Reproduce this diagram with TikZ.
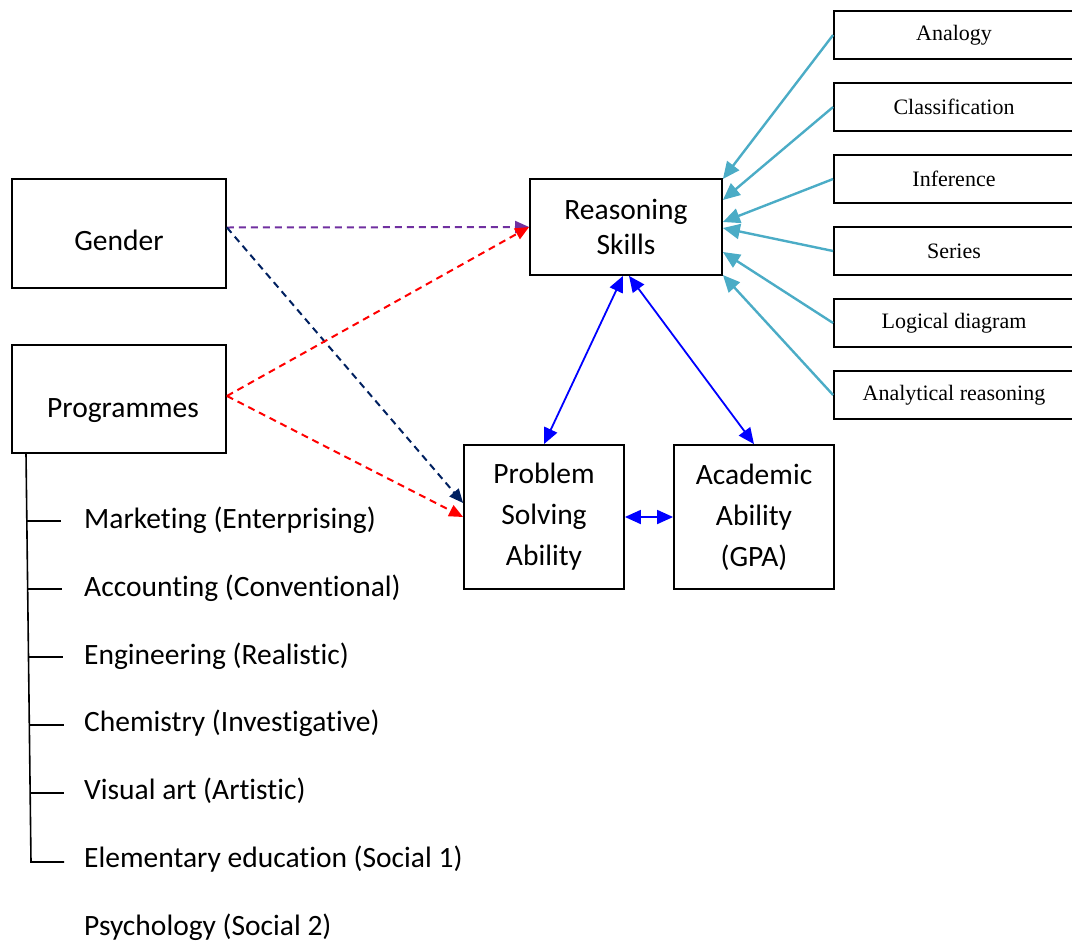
\documentclass[tikz,border=0pt]{standalone}
\usepackage{fontspec}
\setmainfont{Carlito}[Ligatures=NoCommon]
\newfontfamily\skillfont{Liberation Serif}
\usepackage{xcolor}
\usetikzlibrary{arrows.meta}
\definecolor{skillcyan}{HTML}{4BACC6}
\definecolor{gendpurple}{HTML}{7030A0}
\definecolor{gendnavy}{HTML}{002060}

\begin{document}
\begin{tikzpicture}[x=1pt,y=-1pt,
  box/.style={draw,line width=1.8pt,inner sep=0pt,align=center,font=\fontsize{29.5}{35}\selectfont},
  skillbox/.style={draw,line width=1.8pt,inner sep=0pt,minimum width=240pt,minimum height=48pt,font=\skillfont\fontsize{22}{26}\selectfont},
  dashline/.style={line width=2pt,dash pattern=on 7pt off 5pt,-{Triangle[length=14pt,width=12pt]}},
  twoway/.style={line width=1.8pt,blue,{Triangle[length=16pt,width=14pt]}-{Triangle[length=16pt,width=14pt]}},
  feed/.style={line width=2.4pt,skillcyan,-{Triangle[length=17pt,width=15pt]}},
  item/.style={anchor=west,inner sep=0pt,font=\fontsize{29.5}{35}\selectfont}]
\useasboundingbox (0,0) rectangle (1072,943);

\node[box,minimum width=214pt,minimum height=109pt] (gender) at (119,233.5) {\raisebox{-17pt}[0pt][0pt]{Gender}};
\node[box,minimum width=214pt,minimum height=108pt] (prog) at (119,399) {\raisebox{-18pt}[0pt][0pt]{\hspace{8pt}Programmes}};
\node[box,minimum width=192pt,minimum height=96pt] (reason) at (626,227) {Reasoning\\Skills};
\node[box,minimum width=160pt,minimum height=144pt,font=\fontsize{29.5}{41}\selectfont] (ps) at (544,517) {Problem\\Solving\\Ability};
\node[box,minimum width=160pt,minimum height=144pt,font=\fontsize{29.5}{41}\selectfont] (aa) at (754,517) {Academic\\Ability\\(GPA)};

% sub skills on the right
\foreach \lbl/\sh [count=\i] in {Analogy/48,Classification/27,Inference/5,Series/-1,Logical diagram/-25,Analytical reasoning/-48}
{
  \node[skillbox] (sk\i) at (954,35+72*\i-72) {\lbl};
  \draw[feed] (sk\i.west) -- ([yshift=\sh pt]reason.east);
}

% dashed effects
\draw[dashline,gendpurple] ([yshift=6pt]gender.east) -- (reason.west);
\draw[dashline,gendnavy] ([yshift=6pt]gender.east) -- ([yshift=14pt]ps.west);
\draw[dashline,red] ([yshift=3pt]prog.east) -- (reason.west);
\draw[dashline,red] ([yshift=3pt]prog.east) -- (ps.west);

\draw[twoway] ([xshift=-3pt]reason.south) -- (ps.north);
\draw[twoway] ([xshift=3pt]reason.south) -- (aa.north);
\draw[twoway] (ps.east) -- (aa.west);

% programme list
\draw[line width=1.6pt] (26,453) -- (31,862) -- (64,862);
\foreach \yy/\xx in {521/27,589/28,657/29,725/30,793/30}
  \draw[line width=1.6pt] (\xx,\yy) -- ++(34,0);
\foreach \lbl/\yy [count=\i] in {Marketing (Enterprising)/520,Accounting (Conventional)/588,Engineering (Realistic)/656,Chemistry (Investigative)/723,Visual art (Artistic)/791,Elementary education (Social 1)/859,Psychology (Social 2)/927}
  \node[item] (pg\i) at (84,\yy) {\lbl};
\end{tikzpicture}
\end{document}
